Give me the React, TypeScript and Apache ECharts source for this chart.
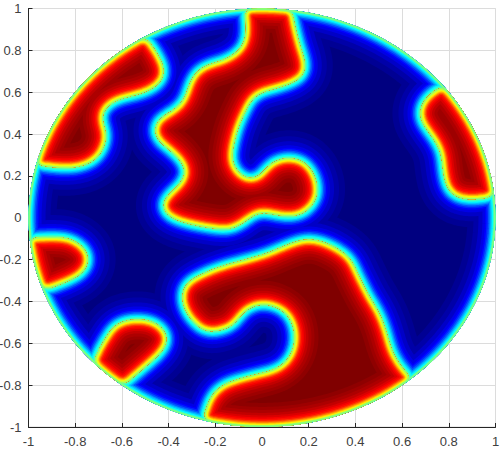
import React, { useEffect, useRef } from "react";
import * as echarts from "echarts";

// Level-0.5 contours of the field, in data coordinates.
const regionTopLeft = [[-0.956,0.251],[-0.906,0.243],[-0.835,0.238],[-0.764,0.249],[-0.707,0.286],[-0.676,0.341],[-0.667,0.405],[-0.686,0.476],[-0.664,0.532],[-0.607,0.568],[-0.522,0.592],[-0.451,0.630],[-0.420,0.683],[-0.427,0.738],[-0.458,0.802],[-0.494,0.857]];
const regionCentre = [[0.128,0.992],[0.142,0.912],[0.164,0.817],[0.185,0.738],[0.171,0.674],[0.092,0.629],[0.006,0.602],[-0.043,0.566],[-0.089,0.466],[-0.105,0.419],[-0.126,0.323],[-0.125,0.260],[-0.090,0.204],[-0.043,0.185],[-0.008,0.204],[0.042,0.263],[0.113,0.287],[0.185,0.263],[0.231,0.183],[0.231,0.089],[0.171,0.018],[0.092,0.008],[-0.008,0.026],[-0.068,-0.014],[-0.136,-0.054],[-0.236,-0.046],[-0.358,-0.014],[-0.418,0.029],[-0.418,0.088],[-0.367,0.145],[-0.332,0.196],[-0.336,0.252],[-0.386,0.315],[-0.445,0.371],[-0.460,0.427],[-0.436,0.475],[-0.379,0.514],[-0.336,0.562],[-0.315,0.626],[-0.286,0.690],[-0.236,0.729],[-0.150,0.761],[-0.086,0.817],[-0.068,0.897],[-0.076,0.992]];
const regionRight = [[0.763,0.623],[0.706,0.578],[0.675,0.506],[0.692,0.443],[0.734,0.379],[0.766,0.308],[0.777,0.212],[0.799,0.132],[0.849,0.093],[0.920,0.088],[0.980,0.100]];
const regionLeft = [[-0.990,-0.096],[-0.907,-0.092],[-0.829,-0.098],[-0.767,-0.139],[-0.743,-0.194],[-0.764,-0.258],[-0.829,-0.302],[-0.910,-0.337]];
const regionLowerLeft = [[-0.717,-0.680],[-0.707,-0.648],[-0.679,-0.592],[-0.628,-0.513],[-0.550,-0.485],[-0.465,-0.497],[-0.415,-0.545],[-0.407,-0.592],[-0.436,-0.648],[-0.507,-0.719],[-0.557,-0.767],[-0.590,-0.799]];
const regionBottom = [[0.635,-0.760],[0.592,-0.704],[0.556,-0.632],[0.528,-0.528],[0.499,-0.449],[0.456,-0.369],[0.413,-0.274],[0.370,-0.186],[0.278,-0.122],[0.192,-0.102],[0.107,-0.130],[0.021,-0.170],[-0.051,-0.194],[-0.179,-0.234],[-0.265,-0.274],[-0.322,-0.313],[-0.343,-0.377],[-0.322,-0.457],[-0.265,-0.527],[-0.215,-0.545],[-0.129,-0.517],[-0.072,-0.444],[0.006,-0.412],[0.096,-0.449],[0.138,-0.536],[0.129,-0.640],[0.071,-0.716],[-0.051,-0.756],[-0.158,-0.794],[-0.218,-0.855],[-0.252,-0.957]];
const regions = [regionTopLeft, regionCentre, regionRight, regionLeft, regionLowerLeft, regionBottom];

// [distance from the contour in px, field value]
const blueLevels = [[28,0.02],[22,0.04],[17,0.07],[13,0.10],[10.5,0.125],[9,0.16],[7.5,0.21],[6,0.27],[4.8,0.32],[3.6,0.37],[2.4,0.42],[1.2,0.47]];
const redLevels = [[24,0.985],[20,0.97],[17,0.955],[14,0.935],[11.5,0.91],[9.5,0.885],[8,0.86],[6.5,0.82],[5.3,0.76],[4.2,0.70],[3.2,0.64],[2.2,0.59],[1.2,0.54],[0.6,0.51]];
const axisTicks = { min: -1, max: 1, interval: 0.2 };

const clip01 = (v: number) => Math.max(0, Math.min(1, v));
const jet = (t: number) => {
  const r = clip01(Math.min(4 * t - 1.5, -4 * t + 4.5));
  const g = clip01(Math.min(4 * t - 0.5, -4 * t + 3.5));
  const b = clip01(Math.min(4 * t + 0.5, -4 * t + 2.5));
  return `rgb(${Math.round(r * 255)},${Math.round(g * 255)},${Math.round(b * 255)})`;
};

// Smooth the read contour, then close it along the unit circle.
const smoothContour = (p: number[][]) => {
  const out: number[][] = [];
  for (let i = 0; i < p.length - 1; i++) {
    const a = p[Math.max(i - 1, 0)], b = p[i], c = p[i + 1], d = p[Math.min(i + 2, p.length - 1)];
    for (let k = 0; k < 8; k++) {
      const s = k / 8, s2 = s * s, s3 = s2 * s;
      out.push([0, 1].map((j) => 0.5 * (2 * b[j] + (c[j] - a[j]) * s + (2 * a[j] - 5 * b[j] + 4 * c[j] - d[j]) * s2 + (3 * b[j] - a[j] - 3 * c[j] + d[j]) * s3)));
    }
  }
  out.push(p[p.length - 1]);
  return out;
};
const closeOnCircle = (p: number[][]) => {
  const first = p[0], last = p[p.length - 1];
  const a0 = Math.atan2(last[1], last[0]);
  let da = Math.atan2(first[1], first[0]) - a0;
  while (da > Math.PI) da -= 2 * Math.PI;
  while (da < -Math.PI) da += 2 * Math.PI;
  const n = Math.max(2, Math.ceil(Math.abs(da) / 0.03));
  const arc: number[][] = [];
  for (let i = 0; i <= n; i++) {
    const a = a0 + (da * i) / n;
    arc.push([Math.cos(a), Math.sin(a)]);
  }
  return [...p, ...arc];
};
// Even out the closed outline so that its corners on the rim become round.
const roundCorners = (p: number[][], step = 0.008, half = 5) => {
  const even: number[][] = [];
  let carry = 0;
  for (let i = 0; i < p.length; i++) {
    const a = p[i], b = p[(i + 1) % p.length];
    const len = Math.hypot(b[0] - a[0], b[1] - a[1]);
    let at = carry;
    while (at < len) {
      const s = at / len;
      even.push([a[0] + (b[0] - a[0]) * s, a[1] + (b[1] - a[1]) * s]);
      at += step;
    }
    carry = at - len;
  }
  const n = even.length;
  return even.map((_, i) => {
    let x = 0, y = 0;
    for (let k = -half; k <= half; k++) {
      const q = even[(i + k + n) % n];
      x += q[0];
      y += q[1];
    }
    return [x / (2 * half + 1), y / (2 * half + 1)];
  });
};
const outlines = regions.map((r) => roundCorners(closeOnCircle(smoothContour(r))));
const unitCircle = Array.from({ length: 241 }, (_, i) => [Math.cos((i / 240) * 2 * Math.PI), Math.sin((i / 240) * 2 * Math.PI)]);

const renderBlueField = (_: any, api: any) => {
  const disc = unitCircle.map((p) => api.coord(p));
  const shapes = outlines.map((o) => o.map((p) => api.coord(p)));
  const children: any[] = [{ type: "polygon", shape: { points: disc }, style: { fill: jet(0) } }];
  blueLevels.forEach(([d, t]) => {
    const color = jet(t);
    children.push({ type: "polygon", shape: { points: disc }, style: { fill: "none", stroke: color, lineWidth: 2 * d } });
    shapes.forEach((points) => {
      children.push({ type: "polygon", shape: { points }, style: { fill: color, stroke: color, lineWidth: 2 * d, lineJoin: "round" } });
    });
  });
  return { type: "group", clipPath: { type: "polygon", shape: { points: disc } }, children };
};

const renderRedRegion = (params: any, api: any) => {
  const points = outlines[api.value(0)].map((p) => api.coord(p));
  const children: any[] = [{ type: "polygon", shape: { points }, style: { fill: jet(1) } }];
  redLevels.forEach(([d, t]) => {
    children.push({ type: "polygon", shape: { points }, style: { fill: "none", stroke: jet(t), lineWidth: 2 * d, lineJoin: "round" } });
  });
  return { type: "group", clipPath: { type: "polygon", shape: { points } }, children };
};

// The field is 0.5 all along the edge of the disc.
const renderRim = (_: any, api: any) => {
  const disc = unitCircle.map((p) => api.coord(p));
  return {
    type: "group",
    clipPath: { type: "polygon", shape: { points: disc } },
    children: [
      { type: "polygon", shape: { points: disc }, style: { fill: "none", stroke: "rgba(128,255,128,0.55)", lineWidth: 4 } },
      { type: "polygon", shape: { points: disc }, style: { fill: "none", stroke: jet(0.5), lineWidth: 2.4 } },
    ],
  };
};

const axisCommon = {
  type: "value",
  ...axisTicks,
  axisLine: { show: true, onZero: false, lineStyle: { color: "#262626", width: 1 } },
  axisTick: { show: true, inside: true, length: 4, lineStyle: { color: "#262626" } },
  splitLine: { show: true, lineStyle: { color: "#dcdcdc", width: 1 } },
  axisLabel: { fontFamily: "Liberation Sans", fontSize: 13, color: "#404040", hideOverlap: false, showMinLabel: true, showMaxLabel: true },
};

export default function App() {
  const ref = useRef<HTMLDivElement>(null);
  useEffect(() => {
    const chart = echarts.init(ref.current!, null, { renderer: "svg" });
    chart.setOption({
      animation: false,
      backgroundColor: "#ffffff",
      grid: { left: 28.5, top: 8.5, width: 467, height: 418.5, show: true, borderColor: "#dcdcdc", borderWidth: 1, backgroundColor: "transparent", outerBoundsMode: "none", containLabel: false },
      xAxis: { ...axisCommon, axisLabel: { ...axisCommon.axisLabel, margin: 8 } },
      yAxis: { ...axisCommon, axisLabel: { ...axisCommon.axisLabel, margin: 7 } },
      series: [
        { type: "custom", silent: true, clip: false, coordinateSystem: "cartesian2d", renderItem: renderBlueField, data: [[0, 0]], encode: { x: 0, y: 1 }, z: 3 },
        { type: "custom", silent: true, clip: false, coordinateSystem: "cartesian2d", renderItem: renderRedRegion, data: regions.map((_, i) => [i, 0]), encode: { x: 1, y: 1 }, z: 4 },
        { type: "custom", silent: true, clip: false, coordinateSystem: "cartesian2d", renderItem: renderRim, data: [[0, 0]], encode: { x: 0, y: 1 }, z: 5 },
      ],
    });
    return () => chart.dispose();
  }, []);
  return <div ref={ref} style={{ position: "fixed", left: 0, top: 0, width: 500, height: 450 }} />;
}
